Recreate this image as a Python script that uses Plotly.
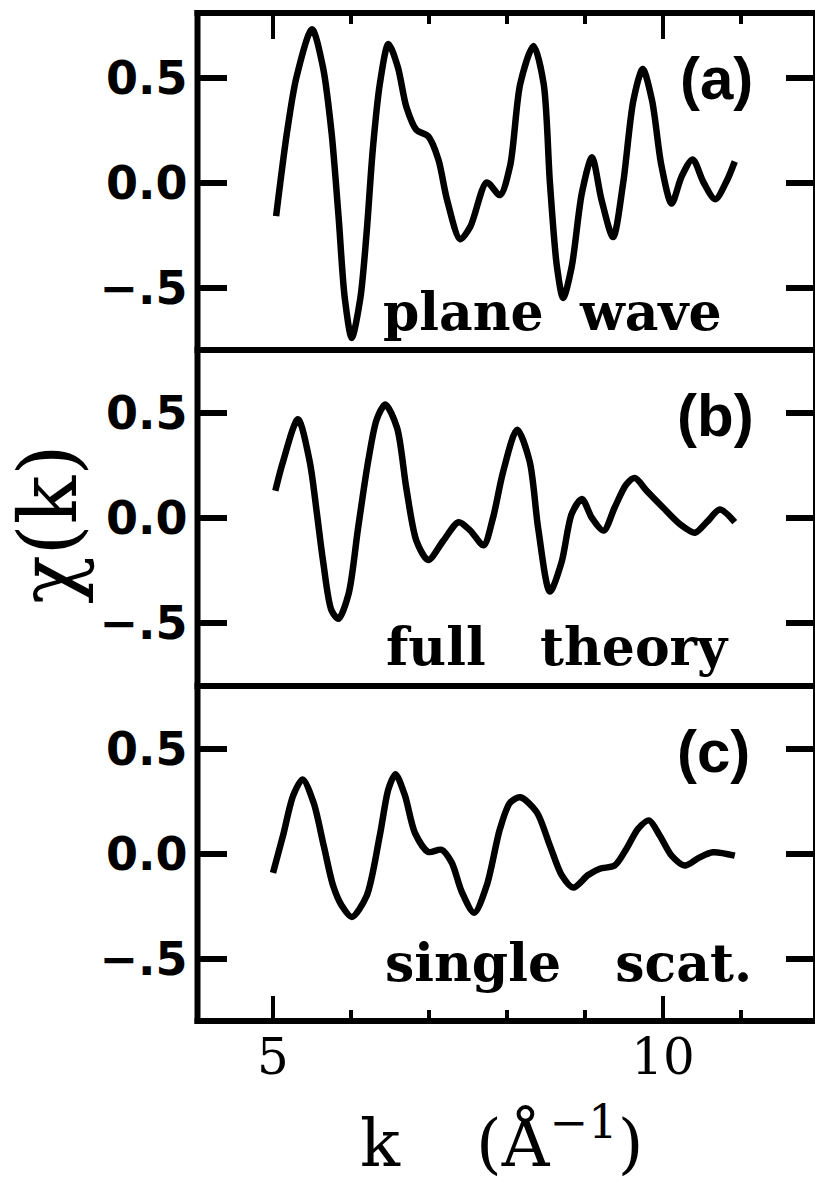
import plotly.graph_objects as go

W, H = 815, 1184

# ---------------- data ----------------
k_a = [5.04, 5.18, 5.30, 5.50, 5.64, 5.75, 5.84, 5.92, 6.01, 6.12, 6.20, 6.28, 6.37, 6.48, 6.60,
       6.71, 6.84, 6.99, 7.12, 7.23, 7.40, 7.53, 7.74, 7.91, 8.04, 8.17, 8.34, 8.47, 8.55, 8.64,
       8.72, 8.83, 8.96, 9.09, 9.21, 9.36, 9.49, 9.62, 9.74, 9.86, 9.98, 10.11, 10.24, 10.38,
       10.52, 10.67, 10.82, 10.92]
chi_a = [-0.16, 0.24, 0.50, 0.73, 0.55, 0.24, -0.16, -0.55, -0.74, -0.55, -0.24, 0.16, 0.47, 0.66, 0.55,
         0.36, 0.25, 0.22, 0.11, -0.08, -0.27, -0.21, 0.0, -0.06, 0.08, 0.47, 0.65, 0.47, 0.0, -0.40,
         -0.55, -0.40, -0.05, 0.12, -0.08, -0.26, 0.0, 0.39, 0.54, 0.39, 0.08, -0.10, 0.03, 0.11,
         0.0, -0.08, 0.01, 0.10]

k_b = [5.03, 5.13, 5.32, 5.47, 5.56, 5.64, 5.75, 5.84, 5.97, 6.09, 6.22, 6.33, 6.44, 6.59, 6.71,
       6.84, 6.99, 7.18, 7.38, 7.53, 7.70, 7.82, 7.95, 8.13, 8.29, 8.40, 8.55, 8.70, 8.83, 8.96,
       9.09, 9.24, 9.38, 9.53, 9.64, 9.79, 10.0, 10.22, 10.41, 10.56, 10.73, 10.92]
chi_b = [0.13, 0.27, 0.47, 0.27, 0.03, -0.20, -0.44, -0.48, -0.36, -0.05, 0.27, 0.47, 0.54, 0.43, 0.14,
         -0.11, -0.20, -0.11, -0.02, -0.06, -0.13, 0.0, 0.22, 0.42, 0.27, -0.05, -0.35, -0.21, 0.02, 0.09,
         0.0, -0.06, 0.05, 0.16, 0.19, 0.13, 0.05, -0.03, -0.07, -0.02, 0.04, -0.02]

k_c = [5.0, 5.13, 5.26, 5.38, 5.52, 5.65, 5.77, 5.88, 6.01, 6.20, 6.37, 6.48, 6.57, 6.69, 6.82,
       6.99, 7.16, 7.29, 7.42, 7.58, 7.74, 7.91, 8.04, 8.17, 8.38, 8.55, 8.70, 8.85, 9.04, 9.19,
       9.38, 9.53, 9.68, 9.82, 9.96, 10.11, 10.28, 10.47, 10.64, 10.92]
chi_c = [-0.09, 0.09, 0.28, 0.355, 0.245, 0.04, -0.15, -0.245, -0.30, -0.20, 0.09, 0.31, 0.38, 0.28, 0.10,
         0.01, 0.02, -0.04, -0.18, -0.28, -0.15, 0.12, 0.245, 0.27, 0.20, 0.04, -0.10, -0.16, -0.10, -0.07,
         -0.055, 0.024, 0.12, 0.16, 0.087, -0.008, -0.055, -0.016, 0.008, -0.008]

y_tickvals = [-0.5, 0.0, 0.5]
y_ticktext = ["\u2212.5", "0.0", "0.5"]
x_tickvals = [5, 10]
x_ticktext = ["5", "10"]
panel_tags = ["(a)", "(b)", "(c)"]
NB = "\u00a0"
panel_names = ["plane" + NB * 2 + "wave", "full" + NB * 3 + "theory", "single" + NB * 3 + "scat."]

# ---------------- layout geometry (pixels) ----------------
def fy(p):
    return 1 - p / H

def fx(p):
    return p / W

lw = 6
left_px, right_px = 197.5, 815.0
frame_right = 816.0
bounds = [13, 350, 686, 1021]
zero_px = [182.5, 518.0, 854.0]
px_per_unit_y = 210.0
x5_px, px_per_unit_x = 273.0, 78.0

x_dom = [fx(left_px), fx(right_px)]
xrange = [5 - (x5_px - left_px) / px_per_unit_x, 5 + (right_px - x5_px) / px_per_unit_x]

fig = go.Figure()
series = [(k_a, chi_a), (k_b, chi_b), (k_c, chi_c)]
for i, (kk, cc) in enumerate(series):
    sfx = "" if i == 0 else str(i + 1)
    fig.add_trace(go.Scatter(
        x=kk, y=cc, mode="lines",
        line=dict(color="black", width=6.5, shape="spline", smoothing=0.8),
        xaxis="x" + sfx, yaxis="y" + sfx, showlegend=False, hoverinfo="skip"))

ytick_font = dict(family="DejaVu Sans", size=46, color="black", weight="bold")
for i in range(3):
    sfx = "" if i == 0 else str(i + 1)
    top_px, bot_px = bounds[i], bounds[i + 1]
    y_dom = [fy(bot_px), fy(top_px)]
    yrange = [-(bot_px - zero_px[i]) / px_per_unit_y, (zero_px[i] - top_px) / px_per_unit_y]
    xa = dict(domain=x_dom, range=xrange, anchor="y" + sfx, showgrid=False, zeroline=False,
              showline=False, fixedrange=True)
    if i == 0:
        xa.update(side="top", ticks="inside", tickvals=x_tickvals, ticklen=26, tickwidth=4,
                  tickcolor="black", showticklabels=False,
                  minor=dict(ticks="inside", dtick=1, tick0=0, ticklen=11, tickwidth=4,
                             tickcolor="black", showgrid=False))
    elif i == 1:
        xa.update(ticks="", showticklabels=False)
    else:
        xa.update(side="bottom", ticks="inside", tickvals=x_tickvals, ticktext=x_ticktext,
                  ticklen=25, tickwidth=4, tickcolor="black", showticklabels=True,
                  tickfont=dict(family="DejaVu Serif", size=50, color="black"),
                  ticklabelstandoff=2,
                  minor=dict(ticks="inside", dtick=1, tick0=0, ticklen=11, tickwidth=4,
                             tickcolor="black", showgrid=False))
    ya = dict(domain=y_dom, range=yrange, anchor="x" + sfx, showgrid=False, zeroline=False,
              showline=False, mirror="ticks",
              ticks="inside", tickvals=y_tickvals, ticktext=y_ticktext,
              ticklen=29, tickwidth=6, tickcolor="black",
              tickfont=ytick_font, ticklabelstandoff=9, fixedrange=True)
    fig.layout["xaxis" + sfx] = xa
    fig.layout["yaxis" + sfx] = ya

# frame lines (panel boxes)
shapes = []
for b in bounds:
    shapes.append(dict(type="line", xref="paper", yref="paper",
                       x0=fx(left_px - lw / 2), x1=fx(frame_right + lw), y0=fy(b), y1=fy(b),
                       line=dict(color="black", width=lw), layer="above"))
for xv in (left_px, frame_right):
    shapes.append(dict(type="line", xref="paper", yref="paper",
                       x0=fx(xv), x1=fx(xv), y0=fy(bounds[0] - lw / 2), y1=fy(bounds[-1] + lw / 2),
                       line=dict(color="black", width=lw), layer="above"))

annotations = []
tag_pos = [(716, 78), (715, 416), (713, 751)]
name_pos = [(381, 312), (384, 646), (383, 962)]
for i in range(3):
    annotations.append(dict(
        text=panel_tags[i], xref="paper", yref="paper",
        x=fx(tag_pos[i][0]), y=fy(tag_pos[i][1]), xanchor="center", yanchor="middle",
        showarrow=False, font=dict(family="Liberation Sans", size=60, color="black", weight="bold")))
    annotations.append(dict(
        text=panel_names[i], xref="paper", yref="paper",
        x=fx(name_pos[i][0]), y=fy(name_pos[i][1]), xanchor="left", yanchor="middle",
        showarrow=False, font=dict(family="DejaVu Serif", size=52, color="black", weight="bold")))

# axis titles
annotations.append(dict(
    text="k" + NB * 3 + "\u2009(Å<sup>\u22121</sup>)", xref="paper", yref="paper",
    x=fx(358), y=0.0, xanchor="left", yanchor="bottom", showarrow=False,
    font=dict(family="DejaVu Serif", size=66, color="black")))
annotations.append(dict(
    text="χ(k)", xref="paper", yref="paper", textangle=-90,
    x=fx(48), y=fy(525), xanchor="center", yanchor="middle", showarrow=False,
    font=dict(family="DejaVu Serif", size=80, color="black")))

fig.update_layout(
    width=W, height=H,
    margin=dict(l=0, r=0, t=0, b=0),
    paper_bgcolor="white", plot_bgcolor="white",
    annotations=annotations, shapes=shapes,
)

fig.write_html("out.html", config={"displayModeBar": False})
